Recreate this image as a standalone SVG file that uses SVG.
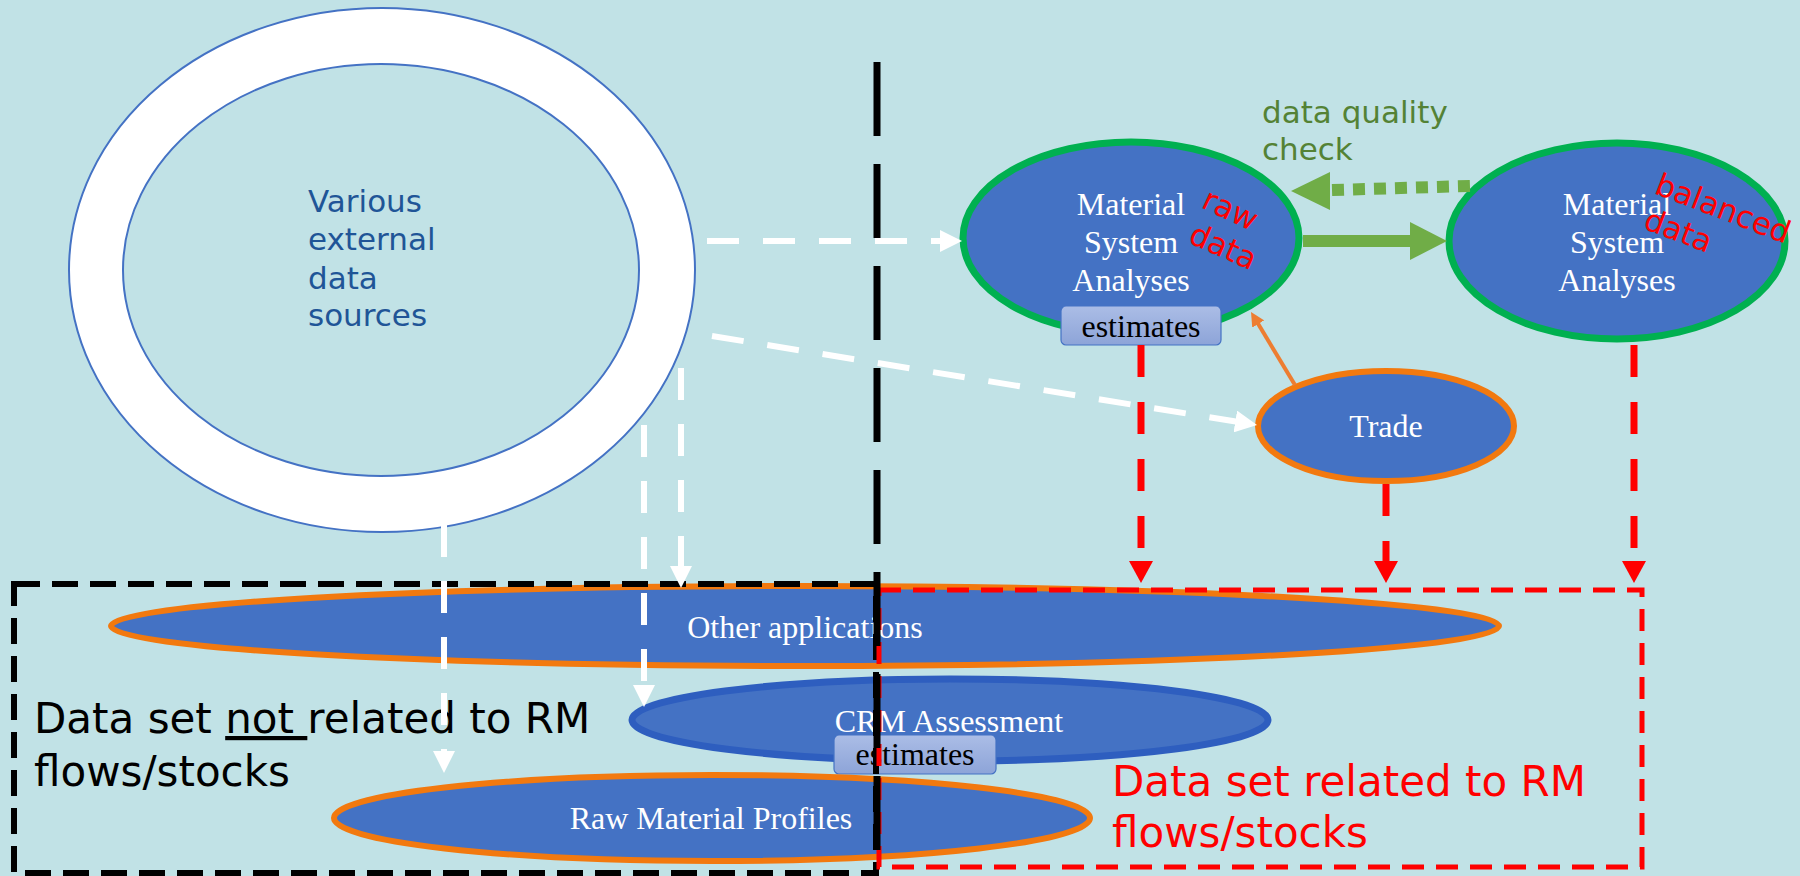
<svg xmlns="http://www.w3.org/2000/svg" width="1800" height="876" viewBox="0 0 1800 876">
<style>
.serif{font-family:"Liberation Serif","Times New Roman",serif;font-size:32px;fill:#fff;text-anchor:middle}
.est{font-family:"Liberation Serif","Times New Roman",serif;font-size:32px;fill:#000;text-anchor:middle}
.sans{font-family:"DejaVu Sans",Verdana,sans-serif}
.node{fill:#4472C4}
.orng{stroke:#F2790F;stroke-width:6}
.grn{stroke:#00B050;stroke-width:7}
.wdash{fill:none;stroke:#fff;stroke-width:6;stroke-dasharray:32 24}
.rdash{fill:none;stroke:#FF0000;stroke-width:7;stroke-dasharray:32 25}
.rot{font-family:"DejaVu Sans",Verdana,sans-serif;font-size:31px;fill:#FF0000}
</style>
<defs>
<linearGradient id="eg" x1="0" y1="0" x2="0" y2="1">
<stop offset="0" stop-color="#ABBDE6"/>
<stop offset="1" stop-color="#8DA4D8"/>
</linearGradient>
<marker id="wh" markerUnits="userSpaceOnUse" viewBox="0 0 22 22" markerWidth="22" markerHeight="22" refX="2" refY="11" orient="auto">
<path d="M0,0 L22,11 L0,22 z" fill="#fff"/>
</marker>
<marker id="rh" markerUnits="userSpaceOnUse" viewBox="0 0 22 24" markerWidth="22" markerHeight="24" refX="2" refY="12" orient="auto">
<path d="M0,0 L22,12 L0,24 z" fill="#FF0000"/>
</marker>
<marker id="oh" markerUnits="userSpaceOnUse" viewBox="0 0 14 14" markerWidth="14" markerHeight="14" refX="2" refY="7" orient="auto">
<path d="M0,0 L14,7 L0,14 z" fill="#ED7D31"/>
</marker>
</defs>
<rect x="0" y="0" width="1800" height="876" fill="#C1E2E6"/>

<g id="external-sources">
<path d="M69,270 a313,262 0 1,0 626,0 a313,262 0 1,0 -626,0 z M123,270 a258,206 0 1,0 516,0 a258,206 0 1,0 -516,0 z" fill="#fff" fill-rule="evenodd" stroke="#4472C4" stroke-width="2"/>
<text class="sans" font-size="31" fill="#1F5597"><tspan x="308" y="212">Various</tspan><tspan x="308" y="250">external</tspan><tspan x="308" y="289">data</tspan><tspan x="308" y="326">sources</tspan></text>
</g>

<g id="other-applications">
<ellipse cx="805" cy="626" rx="694" ry="40" class="node orng"/>
<text class="serif" x="805" y="638">Other applications</text>
</g>

<g id="crm-assessment">
<ellipse cx="950" cy="720" rx="318" ry="41" class="node" stroke="#2E5EBF" stroke-width="7"/>
<text class="serif" x="949" y="732" font-size="31">CRM Assessment</text>
<rect x="834" y="735" width="162" height="39" rx="5" fill="url(#eg)" stroke="#4472C4" stroke-width="1.2"/>
<text class="est" x="915" y="765">estimates</text>
</g>

<g id="raw-material-profiles">
<ellipse cx="712" cy="818" rx="378" ry="43" class="node orng"/>
<text class="serif" x="711" y="829">Raw Material Profiles</text>
</g>

<g id="msa-raw">
<ellipse cx="1131" cy="238" rx="168" ry="96" class="node grn"/>
<text class="serif"><tspan x="1131" y="215">Material</tspan><tspan x="1131" y="253">System</tspan><tspan x="1131" y="291">Analyses</tspan></text>
<text class="rot" x="1200" y="207" transform="rotate(25 1200 207)">raw</text>
<text class="rot" x="1187" y="242" transform="rotate(24 1187 242)">data</text>
<rect x="1061" y="306" width="160" height="39" rx="5" fill="url(#eg)" stroke="#4472C4" stroke-width="1.2"/>
<text class="est" x="1141" y="337">estimates</text>
</g>

<g id="msa-balanced">
<ellipse cx="1617" cy="241" rx="168" ry="98" class="node grn"/>
<text class="serif"><tspan x="1617" y="215">Material</tspan><tspan x="1617" y="253">System</tspan><tspan x="1617" y="291">Analyses</tspan></text>
<text class="rot" font-size="30" x="1653" y="193" transform="rotate(21 1653 193)">balanced</text>
<text class="rot" font-size="30" x="1642" y="228" transform="rotate(21 1642 228)">data</text>
</g>

<g id="trade">
<ellipse cx="1386" cy="426" rx="128" ry="55" class="node orng"/>
<text class="serif" x="1386" y="437">Trade</text>
</g>

<g id="not-related-set">
<rect x="14" y="584" width="862" height="289" fill="none" stroke="#000" stroke-width="6" stroke-dasharray="26 12"/>
<text class="sans" font-size="42" fill="#000"><tspan x="34" y="733">Data set <tspan text-decoration="underline">not </tspan>related to RM</tspan><tspan x="34" y="786">flows/stocks</tspan></text>
</g>

<g id="related-set">
<rect x="879" y="590" width="763" height="277" fill="none" stroke="#FF0000" stroke-width="5" stroke-dasharray="22 12"/>
<text class="sans" font-size="42" fill="#FF0000"><tspan x="1112" y="796">Data set related to RM</tspan><tspan x="1112" y="847">flows/stocks</tspan></text>
</g>

<g id="quality-label">
<text class="sans" font-size="31" fill="#548235"><tspan x="1262" y="123">data quality</tspan><tspan x="1262" y="160">check</tspan></text>
</g>

<g id="connectors">
<path class="wdash" d="M707,241 L942,241" marker-end="url(#wh)"/>
<path class="wdash" d="M712,336 L1237.3,421.8" marker-end="url(#wh)"/>
<path class="wdash" d="M681,368 L681,568" marker-end="url(#wh)"/>
<path class="wdash" d="M644,425 L644,687" marker-end="url(#wh)"/>
<path class="wdash" d="M444,525 L444,753" marker-end="url(#wh)"/>
<path class="rdash" d="M1141,345 L1141,563" marker-end="url(#rh)"/>
<path class="rdash" d="M1386,484 L1386,563" marker-end="url(#rh)"/>
<path class="rdash" d="M1634,345 L1634,563" marker-end="url(#rh)"/>
<path d="M1295,385 L1257.2,322.3" fill="none" stroke="#ED7D31" stroke-width="4" marker-end="url(#oh)"/>
<path d="M1303,241 L1412,241" stroke="#70AD47" stroke-width="12"/>
<path d="M1410,222 L1447,241 L1410,260 z" fill="#70AD47"/>
<path d="M1332,190 L1470,186" stroke="#70AD47" stroke-width="12" stroke-dasharray="12 9"/>
<path d="M1291,191 L1330,172 L1330,210 z" fill="#70AD47"/>
<path d="M877,62 L877,876" stroke="#000" stroke-width="7" stroke-dasharray="74 28"/>
</g>
</svg>
